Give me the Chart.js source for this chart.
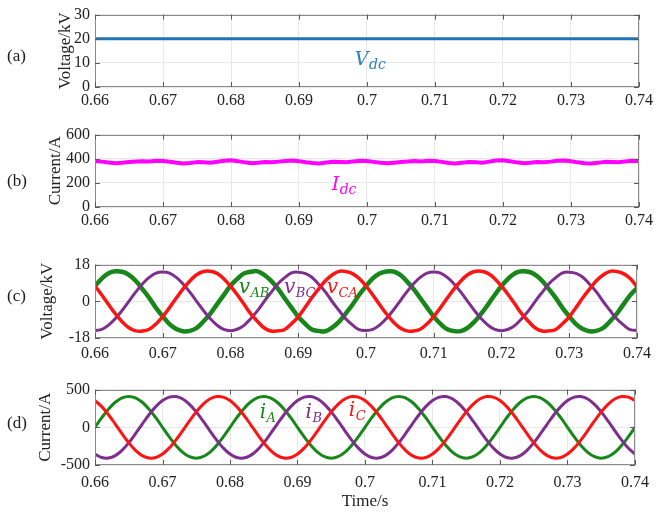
<!DOCTYPE html>
<html><head><meta charset="utf-8">
<script src="https://cdn.jsdelivr.net/npm/chart.js@4/dist/chart.umd.min.js"></script>
<style>
html,body{margin:0;padding:0;background:#fff;}
#wrap{position:relative;width:657px;height:514px;overflow:hidden;background:#fff;}
canvas{position:absolute;left:0;}
</style></head><body>
<div id="wrap">
<canvas id="ca" width="657" height="120" style="top:0px"></canvas>
<canvas id="cb" width="657" height="130" style="top:120px"></canvas>
<canvas id="cc" width="657" height="125" style="top:250px"></canvas>
<canvas id="cd" width="657" height="139" style="top:375px"></canvas>
</div>
<script>
// ---------------- data ----------------
const time = [0.660,0.661,0.662,0.663,0.664,0.665,0.666,0.667,0.668,0.669,
0.670,0.671,0.672,0.673,0.674,0.675,0.676,0.677,0.678,0.679,
0.680,0.681,0.682,0.683,0.684,0.685,0.686,0.687,0.688,0.689,
0.690,0.691,0.692,0.693,0.694,0.695,0.696,0.697,0.698,0.699,
0.700,0.701,0.702,0.703,0.704,0.705,0.706,0.707,0.708,0.709,
0.710,0.711,0.712,0.713,0.714,0.715,0.716,0.717,0.718,0.719,
0.720,0.721,0.722,0.723,0.724,0.725,0.726,0.727,0.728,0.729,
0.730,0.731,0.732,0.733,0.734,0.735,0.736,0.737,0.738,0.739,0.740];

const xTickValues = [0.66,0.67,0.68,0.69,0.70,0.71,0.72,0.73,0.74];
const xTickLabels = ['0.66','0.67','0.68','0.69','0.7','0.71','0.72','0.73','0.74'];

const yTicksA = [0,10,20,30];
const yTicksB = [0,200,400,600];
const yTicksC = [-18,0,18];
const yTicksD = [-500,0,500];

// (a) DC voltage, kV
const vdc = [20,20,20,20,20,20,20,20,20,20,20,20,20,20,20,20,20,20,20,20,
20,20,20,20,20,20,20,20,20,20,20,20,20,20,20,20,20,20,20,20,
20,20,20,20,20,20,20,20,20,20,20,20,20,20,20,20,20,20,20,20,
20,20,20,20,20,20,20,20,20,20,20,20,20,20,20,20,20,20,20,20,20];

// (b) DC current, A
const idc = [380,376,368,362,366,372,377,380,378,383,
381,375,366,360,365,372,370,366,375,384,
388,380,370,362,366,372,370,376,382,385,
380,371,364,360,368,375,373,370,378,384,
381,374,366,362,367,373,378,381,377,384,
382,374,365,361,366,372,370,367,376,385,
387,379,370,363,366,372,371,376,383,385,
379,370,363,361,367,374,372,370,378,384,382];

// (c) line voltages, kV
const vab = [7.5,11.1,13.8,14.7,14.5,13.0,10.1,6.0,1.7,-3.2,-7.4,-11.2,-13.6,-14.7,-14.5,-13.1,-9.9,-6.2,-1.5,3.0,
7.6,11.0,13.7,14.5,14.7,12.9,10.0,6.2,1.5,-3.1,-7.6,-11.0,-13.8,-14.5,-14.7,-12.9,-10.1,-6.0,-1.7,3.2,
7.4,11.2,13.6,14.6,14.6,13.1,9.9,6.1,1.6,-3.0,-7.5,-11.1,-13.7,-14.6,-14.6,-13.0,-10.0,-6.1,-1.6,3.1,
7.5,11.1,13.8,14.7,14.5,13.0,10.1,6.0,1.7,-3.2,-7.4,-11.2,-13.6,-14.7,-14.5,-13.1,-9.9,-6.2,-1.5,3.0,6.5];
const vbc = [-14.3,-13.8,-11.7,-8.5,-4.5,0.0,4.5,8.5,11.7,13.8,14.4,13.8,11.7,8.5,4.5,0.0,-4.5,-8.5,-11.7,-13.8,
-14.4,-13.7,-11.8,-8.4,-4.6,0.1,4.4,8.6,11.6,13.9,14.3,13.7,11.8,8.4,4.6,-0.1,-4.4,-8.6,-11.6,-13.9,
-14.3,-13.8,-11.7,-8.5,-4.5,0.0,4.5,8.5,11.7,13.8,14.4,13.8,11.7,8.5,4.5,0.0,-4.5,-8.5,-11.7,-13.8,
-14.4,-13.7,-11.8,-8.4,-4.6,0.1,4.4,8.6,11.6,13.9,14.3,13.7,11.8,8.4,4.6,-0.1,-4.4,-8.6,-11.6,-13.9,-14.3];
const vca = [7.5,3.1,-1.6,-6.1,-10.0,-13.0,-14.5,-14.6,-13.7,-11.1,-7.5,-3.1,1.6,6.1,10.0,13.0,14.6,14.7,13.7,11.1,
7.4,3.2,-1.5,-6.2,-9.9,-13.1,-14.6,-14.5,-13.8,-11.0,-7.6,-3.0,1.7,6.0,10.1,12.9,14.7,14.6,13.6,11.2,
7.5,3.1,-1.6,-6.1,-10.0,-13.0,-14.5,-14.6,-13.7,-11.1,-7.5,-3.1,1.6,6.1,10.0,13.0,14.6,14.7,13.7,11.1,
7.4,3.2,-1.5,-6.2,-9.9,-13.1,-14.6,-14.5,-13.8,-11.0,-7.6,-3.0,1.7,6.0,10.1,12.9,14.7,14.6,13.6,11.2,7.0];

// (d) phase currents, A
const ia = [0,127,241,332,390,410,390,332,241,127,0,-127,-241,-332,-390,-410,-390,-332,-241,-127,
0,127,241,332,390,410,390,332,241,127,0,-127,-241,-332,-390,-410,-390,-332,-241,-127,
0,127,241,332,390,410,390,332,241,127,0,-127,-241,-332,-390,-410,-390,-332,-241,-127,
0,127,241,332,390,410,390,332,241,127,0,-127,-241,-332,-390,-410,-390,-332,-241,-127,0];
const ib = [-355,-401,-408,-375,-305,-205,-85,43,167,274,355,401,408,375,305,205,85,-43,-167,-274,
-355,-401,-408,-375,-305,-205,-85,43,167,274,355,401,408,375,305,205,85,-43,-167,-274,
-355,-401,-408,-375,-305,-205,-85,43,167,274,355,401,408,375,305,205,85,-43,-167,-274,
-355,-401,-408,-375,-305,-205,-85,43,167,274,355,401,408,375,305,205,85,-43,-167,-274,-355];
const ic = [355,274,167,43,-85,-205,-305,-375,-408,-401,-355,-274,-167,-43,85,205,305,375,408,401,
355,274,167,43,-85,-205,-305,-375,-408,-401,-355,-274,-167,-43,85,205,305,375,408,401,
355,274,167,43,-85,-205,-305,-375,-408,-401,-355,-274,-167,-43,85,205,305,375,408,401,
355,274,167,43,-85,-205,-305,-375,-408,-401,-355,-274,-167,-43,85,205,305,375,408,401,355];

// ---------------- styling ----------------
const C_BLUE = '#1f74b8', C_MAG = '#ff00ff', C_GREEN = '#17871a', C_PURPLE = '#7e2f8e', C_RED = '#ff1414';
const SERIF = '"Liberation Serif", "Times New Roman", serif';
const MATH = '"DejaVu Serif", serif';

const pts = arr => arr.map((v, i) => ({x: time[i], y: v}));

const framePlugin = {
  id: 'frame',
  afterDatasetsDraw(chart, args, o) {
    const {ctx, chartArea: a, scales: {x, y}} = chart;
    ctx.save();
    ctx.strokeStyle = '#8a8a8a';
    ctx.lineWidth = 1;
    ctx.strokeRect(Math.round(a.left) + 0.5, Math.round(a.top) + 0.5,
                   Math.round(a.right - a.left) - 1, Math.round(a.bottom - a.top) - 1);
    ctx.strokeStyle = '#5a5a5a';
    ctx.beginPath();
    for (const v of xTickValues) {
      const px = Math.round(x.getPixelForValue(v)) + 0.5;
      ctx.moveTo(px, a.bottom); ctx.lineTo(px, a.bottom - 5);
      ctx.moveTo(px, a.top); ctx.lineTo(px, a.top + 5);
    }
    for (const v of o.yTicks) {
      const py = Math.round(y.getPixelForValue(v)) + 0.5;
      ctx.moveTo(a.left, py); ctx.lineTo(a.left + 5, py);
      ctx.moveTo(a.right, py); ctx.lineTo(a.right - 5, py);
    }
    ctx.stroke();
    for (const t of (o.notes || [])) {
      const px = x.getPixelForValue(t.x), py = y.getPixelForValue(t.y);
      ctx.fillStyle = t.color;
      ctx.textAlign = 'left';
      ctx.textBaseline = 'alphabetic';
      ctx.font = 'italic ' + t.size + 'px ' + MATH;
      ctx.fillText(t.main, px, py);
      const w = ctx.measureText(t.main).width;
      ctx.font = 'italic ' + t.sub_size + 'px ' + MATH;
      ctx.fillText(t.sub, px + w + 0.5, py + t.drop);
    }
    ctx.fillStyle = '#1a1a1a';
    ctx.font = '17px ' + SERIF;
    ctx.textAlign = 'left';
    ctx.textBaseline = 'middle';
    ctx.fillText(o.panel, 7, o.panelY);
    ctx.restore();
  }
};

function makePanel(id, cfg) {
  new Chart(document.getElementById(id), {
    type: 'line',
    data: {datasets: cfg.datasets},
    plugins: [framePlugin],
    options: {
      responsive: false,
      animation: false,
      devicePixelRatio: 1,
      events: [],
      layout: {padding: {left: cfg.padLeft, right: 15, top: cfg.padTop, bottom: 0}},
      plugins: {legend: {display: false}, tooltip: {enabled: false},
        frame: {yTicks: cfg.yTicks, notes: cfg.notes, panel: cfg.panel, panelY: cfg.panelY}},
      elements: {point: {radius: 0}, line: {tension: 0.4, borderJoinStyle: 'round', borderCapStyle: 'round'}},
      scales: {
        x: {
          type: 'linear', min: 0.66, max: 0.74,
          afterBuildTicks: s => { s.ticks = xTickValues.map(v => ({value: v})); },
          afterFit: s => { s.height = cfg.xHeight; },
          ticks: {
            padding: cfg.xPad, color: '#222', maxRotation: 0, autoSkip: false,
            font: {family: SERIF, size: 16},
            callback: (v, i) => xTickLabels[i]
          },
          grid: {color: '#e8e8e8', lineWidth: 1, drawTicks: false},
          border: {display: false},
          title: cfg.xTitle ? {display: true, text: cfg.xTitle, color: '#222',
                   font: {family: SERIF, size: 17}, padding: {top: 0, bottom: cfg.xTitlePad}} : {display: false}
        },
        y: {
          type: 'linear', min: cfg.yTicks[0], max: cfg.yTicks[cfg.yTicks.length - 1],
          afterBuildTicks: s => { s.ticks = cfg.yTicks.map(v => ({value: v})); },
          afterFit: s => { s.width = 95 - cfg.padLeft; },
          ticks: {padding: 5, color: '#222', font: {family: SERIF, size: 16}},
          grid: {color: '#e8e8e8', lineWidth: 1, drawTicks: false},
          border: {display: false},
          title: {display: true, text: cfg.yTitle, color: '#222',
                  font: {family: SERIF, size: 17}, padding: {top: 0, bottom: 0}}
        }
      }
    }
  });
}

makePanel('ca', {
  padLeft: 55, padTop: 12, xHeight: 33, xPad: 4,
  yTicks: yTicksA, yTitle: 'Voltage/kV', panel: '(a)', panelY: 57,
  datasets: [{data: pts(vdc), borderColor: C_BLUE, borderWidth: 3}],
  notes: [{x: 0.6982, y: 9.2, main: 'V', sub: 'dc', size: 19, sub_size: 14, drop: 4, color: '#2a7cc2'}]
});

makePanel('cb', {
  padLeft: 45, padTop: 8, xHeight: 43, xPad: 4,
  yTicks: yTicksB, yTitle: 'Current/A', panel: '(b)', panelY: 62,
  datasets: [{data: pts(idc), borderColor: C_MAG, borderWidth: 4, tension: 0}],
  notes: [{x: 0.6948, y: 140, main: 'I', sub: 'dc', size: 19, sub_size: 14, drop: 4, color: C_MAG}]
});

makePanel('cc', {
  padLeft: 37, padTop: 3, xHeight: 37, xPad: 6,
  yTicks: yTicksC, yTitle: 'Voltage/kV', panel: '(c)', panelY: 47,
  datasets: [
    {data: pts(vca), borderColor: C_RED, borderWidth: 3.5},
    {data: pts(vbc), borderColor: C_PURPLE, borderWidth: 3},
    {data: pts(vab), borderColor: C_GREEN, borderWidth: 4.5}
  ],
  notes: [
    {x: 0.6812, y: 4.2, main: 'v', sub: 'AB', size: 20, sub_size: 13, drop: 4, color: C_GREEN},
    {x: 0.6879, y: 4.2, main: 'v', sub: 'BC', size: 20, sub_size: 13, drop: 4, color: C_PURPLE},
    {x: 0.6942, y: 4.2, main: 'v', sub: 'CA', size: 20, sub_size: 13, drop: 4, color: C_RED}
  ]
});

makePanel('cd', {
  padLeft: 35, padTop: 5, xHeight: 49, xPad: 8, xTitle: 'Time/s', xTitlePad: 2,
  yTicks: yTicksD, yTitle: 'Current/A', panel: '(d)', panelY: 49,
  datasets: [
    {data: pts(ic), borderColor: C_RED, borderWidth: 3},
    {data: pts(ib), borderColor: C_PURPLE, borderWidth: 3},
    {data: pts(ia), borderColor: C_GREEN, borderWidth: 3}
  ],
  notes: [
    {x: 0.6844, y: 120, main: 'i', sub: 'A', size: 20, sub_size: 13, drop: 4, color: C_GREEN},
    {x: 0.6912, y: 120, main: 'i', sub: 'B', size: 20, sub_size: 13, drop: 4, color: C_PURPLE},
    {x: 0.6976, y: 145, main: 'i', sub: 'C', size: 20, sub_size: 13, drop: 4, color: C_RED}
  ]
});
</script>
</body></html>
